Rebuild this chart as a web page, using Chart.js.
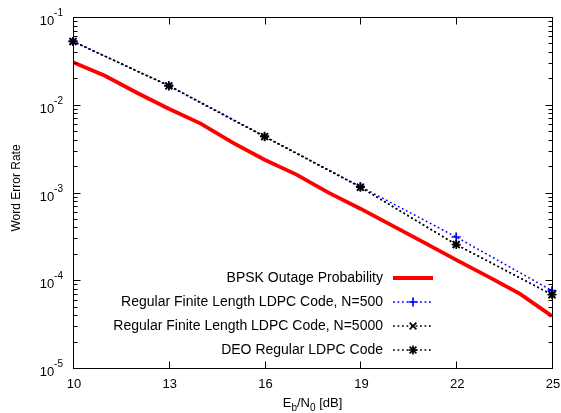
<!DOCTYPE html>
<html lang="en">
<head>
    <meta charset="UTF-8">
    <title>Word Error Rate vs Eb/N0</title>

    <!-- Chart.js -->
    <script src="https://cdn.jsdelivr.net/npm/chart.js@4.4.1/dist/chart.umd.min.js"></script>

    <style>
        body { margin: 0; background: #fff; }
        canvas { display: block; }
    </style>
</head>
<body>
    <canvas id="wer-chart" width="561" height="413"></canvas>
</body>
<script>
    // --- data ---
    const snrOutage = [10, 11, 12, 13, 14, 15, 16, 17, 18, 19, 20, 21, 22, 23, 24, 25]
    const werOutage = [0.0305, 0.0214, 0.0137, 0.0090, 0.0061, 0.0037, 0.00236, 0.0016, 0.000995,
                       0.000654, 0.000419, 0.000268, 0.000171, 0.00011, 0.000070, 0.000039]

    const snrLdpc = [10, 13, 16, 19, 22, 25]
    const werN500 = [0.0527, 0.0166, 0.00438, 0.00117, 0.000311, 0.000076]
    const werN5000 = [0.0527, 0.0164, 0.00433, 0.00115, 0.000255, 0.0000685]
    const werDeo = [0.0527, 0.0164, 0.00433, 0.00115, 0.000255, 0.0000685]

    const xTicks = [10, 13, 16, 19, 22, 25]
    const yExponents = [-5, -4, -3, -2, -1]

    const legendNames = [
        "BPSK Outage Probability",
        "Regular Finite Length LDPC Code, N=500",
        "Regular Finite Length LDPC Code, N=5000",
        "DEO Regular LDPC Code"
    ]

    const FONT = "Arial, 'Liberation Sans', sans-serif"

    function pts(xs, ys) {
        return xs.map((x, i) => ({x: x, y: ys[i]}))
    }

    function drawMarker(ctx, style, x, y, r) {
        ctx.beginPath()
        if (style === "cross" || style === "star") {
            ctx.moveTo(x - r, y); ctx.lineTo(x + r, y)
            ctx.moveTo(x, y - r); ctx.lineTo(x, y + r)
        }
        if (style === "crossRot" || style === "star") {
            let d = r * 0.75
            ctx.moveTo(x - d, y - d); ctx.lineTo(x + d, y + d)
            ctx.moveTo(x - d, y + d); ctx.lineTo(x + d, y - d)
        }
        ctx.stroke()
    }

    // frame, inside ticks, tick labels with exponents, axis titles, legend
    const decorPlugin = {
        id: "decor",
        afterDraw(chart) {
            const ctx = chart.ctx
            const a = chart.chartArea
            const xs = chart.scales.x, ys = chart.scales.y
            ctx.save()
            ctx.strokeStyle = "#000"
            ctx.lineWidth = 1
            ctx.setLineDash([])
            let L = Math.round(a.left) + 0.5, R = Math.round(a.right) + 0.5
            let T = Math.round(a.top) + 0.5, B = Math.round(a.bottom) + 0.5
            ctx.strokeRect(L, T, R - L, B - T)

            ctx.beginPath()
            xTicks.forEach(v => {
                let px = Math.round(xs.getPixelForValue(v)) + 0.5
                ctx.moveTo(px, B); ctx.lineTo(px, B - 7)
                ctx.moveTo(px, T); ctx.lineTo(px, T + 7)
            })
            yExponents.forEach(e => {
                for (let m = 1; m <= 9; m++) {
                    let v = m * Math.pow(10, e)
                    if (v > 0.1 + 1e-12) break
                    let py = Math.round(ys.getPixelForValue(v)) + 0.5
                    let len = m === 1 ? 7 : 4
                    ctx.moveTo(L, py); ctx.lineTo(L + len, py)
                    ctx.moveTo(R, py); ctx.lineTo(R - len, py)
                }
            })
            ctx.stroke()

            ctx.fillStyle = "#000"

            // x tick labels
            ctx.font = "13px " + FONT
            ctx.textAlign = "center"
            ctx.textBaseline = "middle"
            xTicks.forEach(v => {
                ctx.fillText(String(v), xs.getPixelForValue(v) + 1, a.bottom + 16)
            })

            // y tick labels 10^e
            yExponents.forEach(e => {
                let py = ys.getPixelForValue(Math.pow(10, e))
                let exp = "-" + Math.abs(e)
                ctx.font = "10px " + FONT
                let ew = ctx.measureText(exp).width
                ctx.textAlign = "left"
                ctx.textBaseline = "alphabetic"
                ctx.fillText(exp, 63 - ew, py - 1)
                ctx.font = "13px " + FONT
                ctx.textAlign = "right"
                ctx.fillText("10", 63 - ew, py + 8)
            })

            // y title
            ctx.save()
            ctx.translate(17, 188)
            ctx.rotate(-Math.PI / 2)
            ctx.font = "12px " + FONT
            ctx.textAlign = "center"
            ctx.textBaseline = "middle"
            ctx.fillText("Word Error Rate", 0, 0)
            ctx.restore()

            // x title E_b/N_0 [dB]
            let parts = [["E", 13, 0], ["b", 10, 4], ["/N", 13, 0], ["0", 10, 4], [" [dB]", 13, 0]]
            let total = 0
            parts.forEach(p => { ctx.font = p[1] + "px " + FONT; total += ctx.measureText(p[0]).width })
            let cx = (a.left + a.right) / 2 - total / 2
            ctx.textAlign = "left"
            ctx.textBaseline = "alphabetic"
            parts.forEach(p => {
                ctx.font = p[1] + "px " + FONT
                ctx.fillText(p[0], cx, 407 + p[2])
                cx += ctx.measureText(p[0]).width
            })

            // legend
            ctx.font = "14px " + FONT
            chart.data.datasets.forEach((ds, i) => {
                let y = 278 + i * 24
                ctx.textAlign = "right"
                ctx.textBaseline = "middle"
                ctx.fillStyle = "#000"
                ctx.fillText(legendNames[i], 383, y)
                ctx.strokeStyle = ds.borderColor
                ctx.lineWidth = ds.borderWidth
                ctx.setLineDash(ds.borderDash || [])
                ctx.beginPath()
                ctx.moveTo(393, y); ctx.lineTo(433, y)
                ctx.stroke()
                if (ds.pointRadius > 0) {
                    ctx.setLineDash([])
                    ctx.lineWidth = ds.pointBorderWidth
                    drawMarker(ctx, ds.pointStyle, 413, y, ds.pointRadius)
                }
            })
            ctx.restore()
        }
    }

    // custom marker drawing for the LDPC curves (later datasets on top)
    const markerPlugin = {
        id: "markers",
        afterDatasetsDraw(chart) {
            const ctx = chart.ctx
            ctx.save()
            ctx.setLineDash([])
            for (let i = 0; i < chart.data.datasets.length; i++) {
                let ds = chart.data.datasets[i]
                if (!(ds.pointRadius > 0)) continue
                ctx.strokeStyle = ds.borderColor
                ctx.lineWidth = ds.pointBorderWidth
                chart.getDatasetMeta(i).data.forEach(el => {
                    drawMarker(ctx, ds.pointStyle, el.x, el.y, ds.pointRadius)
                })
            }
            ctx.restore()
        }
    }

    function lineSet(label, data, color, width, dash, dashOffset, style, order) {
        return {
            label: label,
            data: data,
            borderColor: color,
            backgroundColor: color,
            borderWidth: width,
            borderDash: dash,
            borderDashOffset: dashOffset,
            pointRadius: style ? 4.5 : 0,
            pointStyle: style,
            pointBorderWidth: 1.7,
            tension: 0,
            order: order,
            pointHoverRadius: 0,
            // library points hidden; markerPlugin draws them
            pointBackgroundColor: "rgba(0,0,0,0)",
            pointBorderColor: "rgba(0,0,0,0)"
        }
    }

    const datasets = [
        lineSet(legendNames[0], pts(snrOutage, werOutage), "#ff0000", 3.8, [], 0, null, 3),
        lineSet(legendNames[1], pts(snrLdpc, werN500), "#0000ff", 1.5, [1.8, 2.7], 0, "cross", 2),
        lineSet(legendNames[2], pts(snrLdpc, werN5000), "#000000", 1.5, [1.8, 2.7], 1, "crossRot", 1),
        lineSet(legendNames[3], pts(snrLdpc, werDeo), "#000000", 1.5, [1.8, 2.7], 1, "star", 0)
    ]

    new Chart(document.getElementById("wer-chart"), {
        type: "line",
        data: { datasets: datasets },
        options: {
            responsive: false,
            animation: false,
            devicePixelRatio: 1,
            layout: { padding: { left: 0, right: 9, top: 17, bottom: 0 } },
            plugins: {
                legend: { display: false },
                tooltip: { enabled: false }
            },
            scales: {
                x: {
                    type: "linear",
                    min: 10,
                    max: 25,
                    grid: { display: false, drawTicks: false },
                    border: { display: false },
                    ticks: { display: false, stepSize: 3 },
                    afterFit: s => { s.height = 45 }
                },
                y: {
                    type: "logarithmic",
                    min: 1e-5,
                    max: 1e-1,
                    grid: { display: false, drawTicks: false },
                    border: { display: false },
                    ticks: { display: false },
                    afterFit: s => { s.width = 73 }
                }
            }
        },
        plugins: [decorPlugin, markerPlugin]
    })
</script>
</html>
